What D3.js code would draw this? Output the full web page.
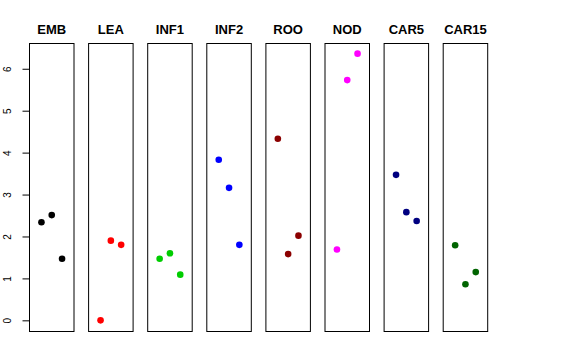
<!DOCTYPE html>
<html>
<head>
<script src="https://d3js.org/d3.v7.min.js"></script>
<style>
  body { margin: 0; background: #fff; }
  text { font-family: "Liberation Sans", Arial, sans-serif; }
  .title { font-size: 13px; font-weight: bold; }
  .tick text { font-size: 10px; }
</style>
</head>
<body>
<div id="chart"></div>
<script>
// panels and their values (x = 1, 2, 3 inside each panel)
const groups = ["EMB", "LEA", "INF1", "INF2", "ROO", "NOD", "CAR5", "CAR15"];
const colors = ["#000000", "#FF0000", "#00CD00", "#0000FF", "#8B0000", "#FF00FF", "#000080", "#006400"];
const emb   = [2.34, 2.51, 1.47];
const lea   = [0.00, 1.90, 1.80];
const inf1  = [1.47, 1.60, 1.09];
const inf2  = [3.83, 3.16, 1.80];
const roo   = [4.33, 1.58, 2.02];
const nod   = [1.69, 5.73, 6.36];
const car5  = [3.47, 2.58, 2.37];
const car15 = [1.79, 0.86, 1.15];
const values = [emb, lea, inf1, inf2, roo, nod, car5, car15];
const yTicks = [0, 1, 2, 3, 4, 5, 6];

const width = 576, height = 360;
const plotTop = 43, plotBottom = 331;
const panelLeft = 29, panelW = 44.5, step = 59.1;

const svg = d3.select("#chart").append("svg")
    .attr("width", width)
    .attr("height", height);

// R-style 4% padding on both scales
const yMax = d3.max(values, v => d3.max(v));
const yPad = (yMax - 0) * 0.04;
const y = d3.scaleLinear()
    .domain([0 - yPad, yMax + yPad])
    .range([plotBottom, plotTop]);

const x = d3.scaleLinear()
    .domain([-0.16, 4.16])
    .range([0, panelW]);

groups.forEach((g, i) => {
    const x0 = panelLeft + i * step;
    const p = svg.append("g").attr("transform", "translate(" + x0 + ",0)");

    p.append("rect")
        .attr("x", 0.5)
        .attr("y", plotTop + 0.5)
        .attr("width", panelW)
        .attr("height", plotBottom - plotTop)
        .attr("fill", "none")
        .attr("stroke", "#000")
        .attr("stroke-width", 1);

    p.append("text")
        .attr("class", "title")
        .attr("x", panelW / 2 + 0.5)
        .attr("y", 34)
        .attr("text-anchor", "middle")
        .text(g);

    p.selectAll("circle")
        .data(values[i])
      .enter().append("circle")
        .attr("cx", (d, j) => x(j + 1) + 0.5)
        .attr("cy", d => y(d))
        .attr("r", 3.3)
        .attr("fill", colors[i]);
});

// y axis on the first panel
const axis = svg.append("g")
    .attr("transform", "translate(" + (panelLeft + 0.5) + ",0)")
    .call(d3.axisLeft(y).tickValues(yTicks).tickFormat(d3.format("d")).tickSize(7).tickPadding(0));

axis.select(".domain").remove();
axis.selectAll(".tick line").attr("stroke", "#000");
axis.selectAll(".tick text")
    .attr("x", 0)
    .attr("y", 0)
    .attr("dy", "0.35em")
    .attr("text-anchor", "middle")
    .attr("fill", "#000")
    .attr("transform", "translate(-22.5,0) rotate(-90)");
</script>
</body>
</html>
